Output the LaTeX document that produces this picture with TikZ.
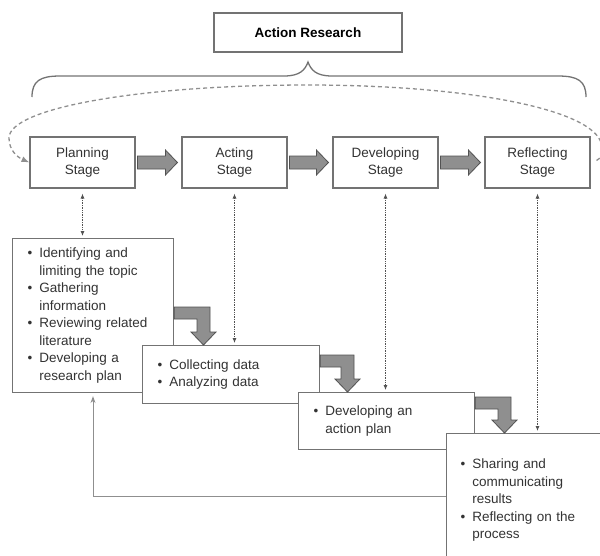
\documentclass[tikz,border=0pt]{standalone}
\usepackage{fontspec}
\setmainfont{Liberation Sans}
\usepackage{xcolor}
\usepackage{tikz}
\usetikzlibrary{
	positioning,    % posizionamento relativo
	arrows.meta,    % punte di freccia
	calc            % per i let nelle frecce grosse
}

\definecolor{grigiobordo}{gray}{0.45}
\definecolor{grigiotesto}{gray}{0.2}
\definecolor{grigiofreccia}{gray}{0.56}
\definecolor{grigioscuro}{gray}{0.32}

% freccia piena tra due fasi
\newcommand{\frecciagrossa}[2]{%
	\filldraw[freccia] let \p1=(#1.east), \p2=(#2.west) in
	(\x1+2pt,\y1+6.5pt) -- (\x2-16pt,\y1+6.5pt) -- (\x2-16pt,\y1+12.5pt)
	-- (\x2-4pt,\y1) -- (\x2-16pt,\y1-12.5pt) -- (\x2-16pt,\y1-6.5pt)
	-- (\x1+2pt,\y1-6.5pt) -- cycle;}

% freccia piegata: da #1 (lato destro, quota #3) a #2 (lato alto, ascissa #4)
\newcommand{\frecciapiegata}[4]{%
	\filldraw[freccia] let \p1=(#1.east), \p2=(#2.north), \p3=(0,#3), \p4=(#4,0) in
	(\x1,\y3) -- (\x4+6.5pt,\y3) -- (\x4+6.5pt,\y2+13pt) -- (\x4+12.5pt,\y2+13pt)
	-- (\x4,\y2) -- (\x4-12.5pt,\y2+13pt) -- (\x4-6.5pt,\y2+13pt)
	-- (\x4-6.5pt,\y3-12pt) -- (\x1,\y3-12pt) -- cycle;}

\begin{document}
\begin{tikzpicture}[
	x=1pt, y=-1pt,
	testo/.style={font=\fontsize{13.5}{17.5}\selectfont, text=grigiotesto},
	fase/.style={testo, draw=grigiobordo, line width=1.1pt, fill=white,
		minimum width=105pt, minimum height=51pt, align=center, inner sep=2pt},
	titolo/.style={fase, minimum width=188pt, minimum height=39pt, text=black},
	elenco/.style={testo, draw=grigiobordo, line width=1.1pt, fill=white,
		anchor=north west, align=left, inner xsep=15pt, inner ysep=0pt},
	freccia/.style={fill=grigiofreccia, draw=grigioscuro, line width=0.8pt},
	collegamento/.style={densely dotted, draw=grigioscuro, line width=0.7pt,
		{Latex[length=5pt,width=4pt]}-{Latex[length=5pt,width=4pt]},
		shorten <=5pt, shorten >=2pt},
	ciclo/.style={dash pattern=on 4pt off 3pt, draw=grigiofreccia, line width=1.3pt,
		-{Latex[length=8pt,width=6pt]}},
	ritorno/.style={draw=grigiofreccia, line width=1pt,
		-{Stealth[length=7pt,width=5pt]}, shorten >=3pt}
	]
	
	\useasboundingbox (0,0) rectangle (600,555);
	\clip (0,0) rectangle (600,555);
	
	% --- Titolo e graffa ---
	\node[titolo] (ar) at (308,32.5) {\textbf{Action Research}};
	\draw[grigiobordo, line width=1.3pt]
		(32,97) .. controls (32,81) and (40,76) .. (60,76) -- (284,76)
		.. controls (300,76) and (305,70) .. (308,62)
		.. controls (311,70) and (316,76) .. (332,76) -- (558,76)
		.. controls (578,76) and (586,81) .. (586,97);
	
	% --- Fasi ---
	\node[fase] (plan) at (82.5,162.5) {Planning\\Stage};
	\node[fase] (act) at (234.5,162.5) {Acting\\Stage};
	\node[fase] (dev) at (385.5,162.5) {Developing\\Stage};
	\node[fase] (refl) at (537.5,162.5) {Reflecting\\Stage};
	
	\frecciagrossa{plan}{act}
	\frecciagrossa{act}{dev}
	\frecciagrossa{dev}{refl}
	
	% --- Ciclo tratteggiato ---
	\draw[ciclo] ([xshift=6pt,yshift=2pt]refl.east)
		.. controls (601,158) and (602,155) .. (602,148)
		.. controls (602,110) and (470,85) .. (308,85)
		.. controls (140,85) and (9,108) .. (9,138)
		.. controls (9,150) and (17,157) .. (plan.west);
	
	% --- Ritorno ---
	\coordinate (rit) at (93,496);
	
	% --- Riquadri con le attivita' ---
	\node[elenco, text width=131pt, minimum height=154pt] (b1) at (12,238) {%
		\begin{tabular}{@{}l@{\hspace{7pt}}l@{}}
		\textbullet & Identifying and\\
		 & limiting the topic\\
		\textbullet & Gathering\\
		 & information\\
		\textbullet & Reviewing related\\
		 & literature\\
		\textbullet & Developing a\\
		 & research plan
		\end{tabular}};
	\node[elenco, text width=147pt, minimum height=58pt] (b2) at (142,345) {%
		\begin{tabular}{@{}l@{\hspace{7pt}}l@{}}
		\textbullet & Collecting data\\
		\textbullet & Analyzing data
		\end{tabular}};
	\node[elenco, text width=146pt, minimum height=57pt] (b3) at (298,392) {%
		\begin{tabular}{@{}l@{\hspace{7pt}}l@{}}
		\textbullet & Developing an\\
		 & action plan
		\end{tabular}};
	\node[elenco, inner xsep=14pt, text width=140pt, minimum height=133pt] (b4) at (446,433) {%
		\begin{tabular}{@{}l@{\hspace{7pt}}l@{}}
		\textbullet & Sharing and\\
		 & communicating\\
		 & results\\
		\textbullet & Reflecting on the\\
		 & process
		\end{tabular}};
	
	\draw[ritorno] (b4.west |- rit) -- (rit) -- (rit |- b1.south);
	
	% --- Collegamenti tra fasi e riquadri ---
	\draw[collegamento] (plan.south) -- (plan.south |- b1.north);
	\draw[collegamento] (act.south) -- (act.south |- b2.north);
	\draw[collegamento] (dev.south) -- (dev.south |- b3.north);
	\draw[collegamento] (refl.south) -- (refl.south |- b4.north);
	
	% --- Frecce piegate ---
	\frecciapiegata{b1}{b2}{307}{203.5}
	\frecciapiegata{b2}{b3}{355}{347.5}
	\frecciapiegata{b3}{b4}{397}{504.5}
	
\end{tikzpicture}
\end{document}
